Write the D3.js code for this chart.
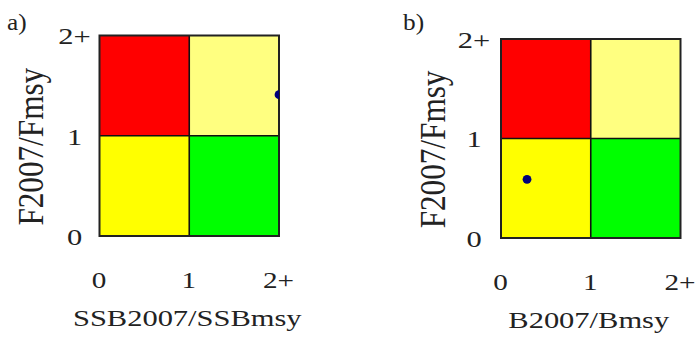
<!DOCTYPE html>
<html>
<head>
<meta charset="utf-8">
<script src="https://cdn.jsdelivr.net/npm/d3@7"></script>
<style>
  html, body { margin: 0; padding: 0; background: #fff; }
  svg { display: block; }
  text { font-family: "Liberation Serif", "Times New Roman", serif; fill: #222; }
</style>
</head>
<body>
<svg id="chart" width="699" height="338"></svg>
<script>
// Panel captions and axis titles
const panelLabels = ["a)", "b)"];
const xTitles = ["SSB2007/SSBmsy", "B2007/Bmsy"];
const yTitles = ["F2007/Fmsy", "F2007/Fmsy"];

// Ticks shared by both axes of both panels
const tickValues = [0, 1, 2];
const tickLabels = ["0", "1", "2+"];

// Stock status of each panel (x = biomass ratio, y = fishing mortality ratio)
const pointX = [2.0, 0.29];
const pointY = [1.41, 0.59];

// Status quadrants: lower-left corner in data units, each one unit wide
const zoneX0 = [0, 1, 0, 1];
const zoneY0 = [1, 1, 0, 0];
const zoneColors = ["#FF0000", "#FFFF80", "#FFFF00", "#00FF00"];

const panels = [
  { left: 99.5, top: 35.5, width: 179.5, height: 200.5, labelX: 7,   labelY: 30, yTickDx: -25, yTitleDx: -57 },
  { left: 501,  top: 39,   width: 179.5, height: 199,   labelX: 403, labelY: 30, yTickDx: -27, yTitleDx: -56 }
];

const stretch = 1.27;   // wide set type
const svg = d3.select("#chart");

panels.forEach((p, i) => {
  const x = d3.scaleLinear().domain([0, 2]).range([p.left, p.left + p.width]);
  const y = d3.scaleLinear().domain([0, 2]).range([p.top + p.height, p.top]);
  const g = svg.append("g");

  // quadrants
  g.selectAll("rect.zone")
    .data(zoneX0.map((x0, k) => ({ x0, y0: zoneY0[k], c: zoneColors[k] })))
    .join("rect")
    .attr("class", "zone")
    .attr("x", d => x(d.x0))
    .attr("y", d => y(d.y0 + 1))
    .attr("width", d => x(d.x0 + 1) - x(d.x0))
    .attr("height", d => y(d.y0) - y(d.y0 + 1))
    .attr("fill", d => d.c);

  // dividing lines
  g.append("line")
    .attr("x1", x(1)).attr("x2", x(1))
    .attr("y1", y(0)).attr("y2", y(2))
    .attr("stroke", "#111").attr("stroke-width", 1.6);
  g.append("line")
    .attr("x1", x(0)).attr("x2", x(2))
    .attr("y1", y(1)).attr("y2", y(1))
    .attr("stroke", "#111").attr("stroke-width", 1.6);

  // frame
  g.append("rect")
    .attr("x", x(0)).attr("y", y(2))
    .attr("width", x(2) - x(0)).attr("height", y(0) - y(2))
    .attr("fill", "none").attr("stroke", "#222").attr("stroke-width", 2);

  // status point, kept inside the frame
  const clipId = "clip" + i;
  svg.append("clipPath").attr("id", clipId)
    .append("rect")
    .attr("x", x(0)).attr("y", y(2))
    .attr("width", x(2) - x(0)).attr("height", y(0) - y(2));
  g.append("circle")
    .attr("clip-path", `url(#${clipId})`)
    .attr("cx", x(pointX[i]))
    .attr("cy", y(pointY[i]))
    .attr("r", 4.4)
    .attr("fill", "#00007A");

  // x axis labels
  const xAxis = d3.axisBottom(x).tickValues(tickValues)
    .tickFormat((d, k) => tickLabels[k]).tickSize(0);
  const gx = g.append("g")
    .attr("transform", `translate(0,${y(0)})`)
    .call(xAxis);
  gx.select(".domain").remove();
  gx.selectAll("text")
    .attr("x", null).attr("y", null).attr("dy", null)
    .attr("text-anchor", "middle")
    .attr("font-size", 23)
    .attr("font-family", "Liberation Serif")
    .attr("fill", "#222")
    .attr("transform", `translate(-1,52) scale(${stretch},1)`);

  // y axis labels
  const yAxis = d3.axisLeft(y).tickValues(tickValues)
    .tickFormat((d, k) => tickLabels[k]).tickSize(0);
  const gy = g.append("g")
    .attr("transform", `translate(${x(0)},0)`)
    .call(yAxis);
  gy.select(".domain").remove();
  gy.selectAll("text")
    .attr("x", null).attr("y", null)
    .attr("dy", "0.35em")
    .attr("text-anchor", "middle")
    .attr("font-size", 24)
    .attr("font-family", "Liberation Serif")
    .attr("fill", "#222")
    .attr("transform", `translate(${p.yTickDx},0) scale(${stretch},1)`);

  // axis titles
  g.append("text")
    .attr("text-anchor", "middle")
    .attr("font-size", 24)
    .attr("transform", `translate(${(x(0) + x(2)) / 2 - 2},${y(0) + 90}) scale(${stretch},1)`)
    .text(xTitles[i]);
  g.append("text")
    .attr("text-anchor", "middle")
    .attr("font-size", 30)
    .attr("transform", `translate(${x(0) + p.yTitleDx},${(y(0) + y(2)) / 2 + 11}) rotate(-90) scale(1.04,1.18)`)
    .text(yTitles[i]);

  // panel caption
  g.append("text")
    .attr("font-size", 23)
    .attr("transform", `translate(${p.labelX},${p.labelY}) scale(1.1,1)`)
    .text(panelLabels[i]);
});
</script>
</body>
</html>
